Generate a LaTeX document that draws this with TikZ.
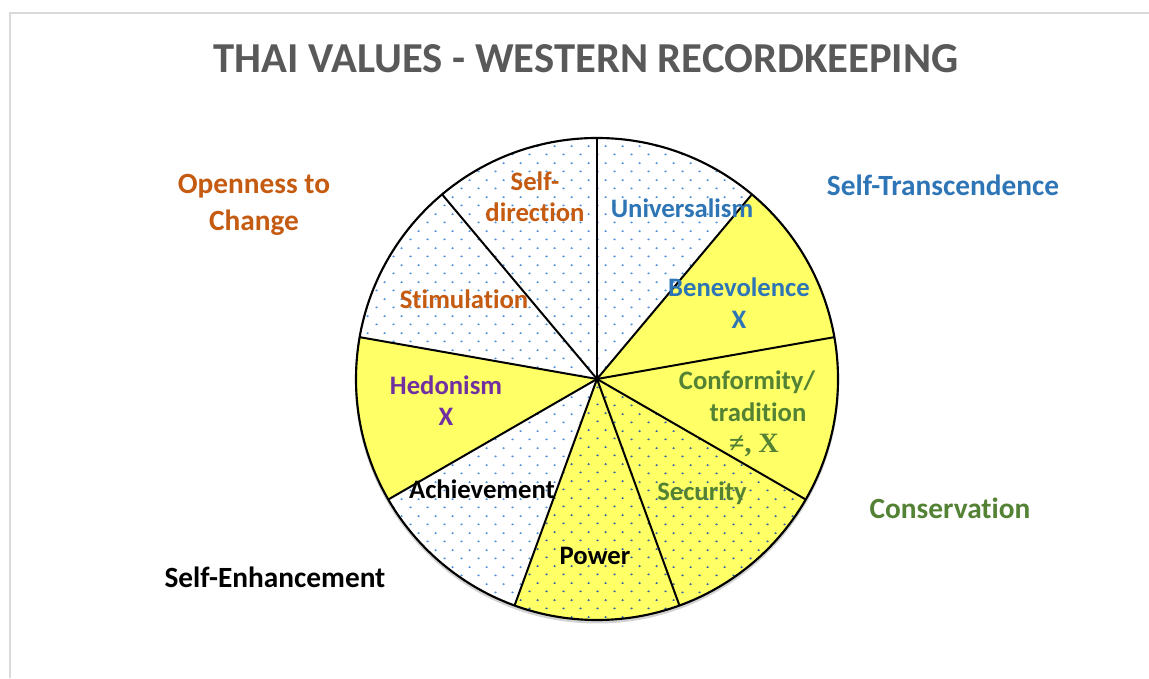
\documentclass[tikz,border=0pt]{standalone}
\usepackage{fontspec}
\setmainfont{Carlito}[Ligatures={NoCommon}]
\newfontfamily\serifb{Liberation Serif}
\usetikzlibrary{patterns}
\pgfdeclarepatternformonly{bluedots}{\pgfqpoint{0pt}{0pt}}{\pgfqpoint{12.75pt}{12.5pt}}{\pgfqpoint{12.75pt}{12.5pt}}{%
  \pgfpathellipse{\pgfqpoint{2pt}{2pt}}{\pgfqpoint{1pt}{0pt}}{\pgfqpoint{0pt}{0.8pt}}%
  \pgfpathellipse{\pgfqpoint{8.375pt}{8.25pt}}{\pgfqpoint{1pt}{0pt}}{\pgfqpoint{0pt}{0.8pt}}%
  \pgfusepath{fill}}
\definecolor{ttl}{HTML}{595959}
\definecolor{orng}{HTML}{C55A11}
\definecolor{blu}{HTML}{2E75B6}
\definecolor{grn}{HTML}{548235}
\definecolor{purp}{HTML}{7030A0}
\definecolor{yel}{HTML}{FFFF66}
\definecolor{dotc}{HTML}{4F90D8}
\definecolor{dotd}{HTML}{2F63A8}
\definecolor{frame}{HTML}{D9D9D9}
\begin{document}
\begin{tikzpicture}[x=0.75pt,y=0.75pt,
  lbl/.style={anchor=base,inner sep=0pt,font=\fontsize{20}{24}\selectfont\bfseries},
  outlbl/.style={anchor=base,inner sep=0pt,font=\fontsize{22}{26}\selectfont\bfseries},
  ttlstyle/.style={anchor=base,inner sep=0pt,text=ttl,font=\fontsize{32}{38}\selectfont\bfseries},
  spoke/.style={draw=black,line width=1.5pt},
  dotfill/.style={pattern=bluedots,pattern color=dotc},
  dotfilld/.style={pattern=bluedots,pattern color=dotd}]
\useasboundingbox (0,0) rectangle (1149,678);
% frame lines
\draw[frame,line width=1.5pt] (10,0) -- (10,665) -- (1149,665);
% title
\node[ttlstyle] (title) at (586,605) {THAI VALUES - WESTERN RECORDKEEPING};
% pie
\coordinate (C) at (597,299);
\def\R{241}
\fill[black!35,opacity=0.5] (597,296.5) circle[radius=242];
\fill[white] (C) circle[radius=\R];
% yellow slices
\foreach \a/\b in {170/210,250/290,290/330,330/370,370/410}{
  \fill[yel] (C) -- ++(\a:\R) arc[start angle=\a,end angle=\b,radius=\R] -- cycle;
}
% dotted slices on white
\foreach \a/\b in {90/130,130/170,210/250,410/450}{
  \fill[dotfill] (C) -- ++(\a:\R) arc[start angle=\a,end angle=\b,radius=\R] -- cycle;
}
% dotted slices on yellow
\foreach \a/\b in {250/290,290/330}{
  \fill[dotfilld] (C) -- ++(\a:\R) arc[start angle=\a,end angle=\b,radius=\R] -- cycle;
}
% spokes
\foreach \a in {90,130,170,210,250,290,330,10,50}{
  \draw[spoke] (C) -- ++(\a:\R);
}
\draw[black,line width=1.6pt] (C) circle[radius=\R];
% slice labels
\node[lbl,text=orng] (sd1) at (535,487) {Self-};
\node[lbl,text=orng] (sd2) at (535,456) {direction};
\node[lbl,text=blu] (univ) at (682,460) {Universalism};
\node[lbl,text=blu] (bene) at (739,381) {Benevolence};
\node[lbl,text=blu] (beneX) at (739,349) {X};
\node[lbl,text=orng] (stim) at (464,369) {Stimulation};
\node[lbl,text=purp] (hedo) at (446,283) {Hedonism};
\node[lbl,text=purp] (hedoX) at (446,252) {X};
\node[lbl,text=grn] (conf) at (747,288) {Conformity/};
\node[lbl,text=grn] (trad) at (758,256) {tradition};
\node[anchor=base,inner sep=0pt,text=grn,font=\serifb\fontsize{21}{25}\selectfont\bfseries] (confX) at (754,225) {≠, X};
\node[lbl,text=grn] (secu) at (702,177) {Security};
\node[lbl,text=black] (achi) at (482,179) {Achievement};
\node[lbl,text=black] (powr) at (595,113) {Power};
% outer labels
\node[outlbl,text=orng] (open1) at (254,484) {Openness to};
\node[outlbl,text=orng] (open2) at (254,447) {Change};
\node[outlbl,text=blu] (strans) at (943,482) {Self-Transcendence};
\node[outlbl,text=grn] (cons) at (950,159) {Conservation};
\node[outlbl,text=black] (senh) at (275,90) {Self-Enhancement};
\end{tikzpicture}
\end{document}
